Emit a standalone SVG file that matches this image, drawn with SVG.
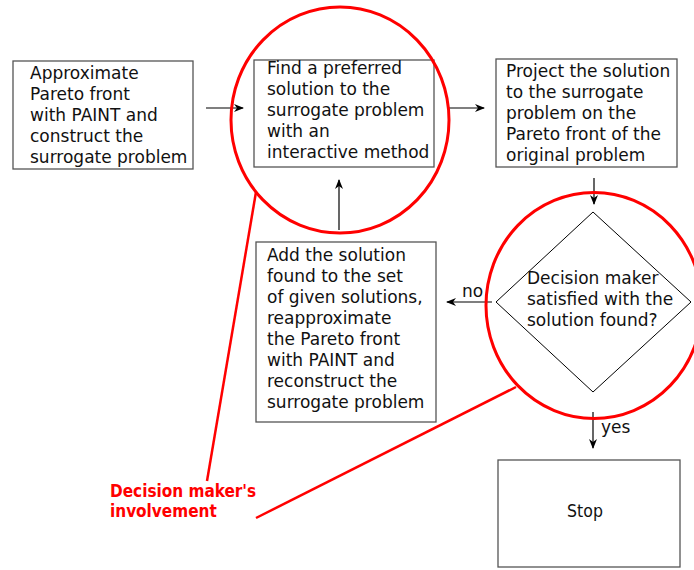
<svg xmlns="http://www.w3.org/2000/svg" width="694" height="570" viewBox="0 0 694 570">
<defs>
<marker id="ah" markerWidth="10" markerHeight="8" refX="9" refY="4" orient="auto" markerUnits="userSpaceOnUse">
<path d="M0,0 L10,4 L0,8 L3,4 Z" fill="#000"/>
</marker>
<style>
.box{fill:#fff;stroke:#555;stroke-width:1.3}
.t{font-family:"DejaVu Sans",sans-serif;font-size:17px;fill:#111}
.c{font-family:"DejaVu Sans Condensed","DejaVu Sans",sans-serif;font-size:17.5px}
.red{fill:none;stroke:#f00;stroke-width:3}
.rl{stroke:#f00;stroke-width:2.5;fill:none}
.ln{stroke:#000;stroke-width:1.2;fill:none;marker-end:url(#ah)}
.lbl{font-family:"DejaVu Sans Condensed","DejaVu Sans",sans-serif;font-size:17px;font-weight:bold;fill:#f00}
</style>
</defs>
<rect width="694" height="570" fill="#fff"/>
<g id="node-approx">
<rect class="box" x="13" y="61" width="180" height="108"/>
<text class="t" x="30" y="79">Approximate</text>
<text class="t" x="30" y="100">Pareto front</text>
<text class="t" x="30" y="121">with PAINT and</text>
<text class="t" x="30" y="142">construct the</text>
<text class="t" x="30" y="163">surrogate problem</text>
</g>
<g id="node-find">
<rect class="box" x="254" y="60" width="180" height="107"/>
<text class="t" x="267" y="74">Find a preferred</text>
<text class="t" x="267" y="95">solution to the</text>
<text class="t" x="267" y="116">surrogate problem</text>
<text class="t" x="267" y="137">with an</text>
<text class="t" x="267" y="158">interactive method</text>
</g>
<g id="node-project">
<rect class="box" x="496" y="59" width="181" height="108"/>
<text class="t" x="506" y="77">Project the solution</text>
<text class="t" x="506" y="98">to the surrogate</text>
<text class="t" x="506" y="119">problem on the</text>
<text class="t" x="506" y="140">Pareto front of the</text>
<text class="t" x="506" y="161">original problem</text>
</g>
<g id="node-add">
<rect class="box" x="256" y="242" width="180" height="180"/>
<text class="t" x="267" y="261">Add the solution</text>
<text class="t" x="267" y="282">found to the set</text>
<text class="t" x="267" y="303">of given solutions,</text>
<text class="t" x="267" y="324">reapproximate</text>
<text class="t" x="267" y="345">the Pareto front</text>
<text class="t" x="267" y="366">with PAINT and</text>
<text class="t" x="267" y="387">reconstruct the</text>
<text class="t" x="267" y="408">surrogate problem</text>
</g>
<g id="node-decision">
<polygon points="593,212 691,302 593,392 496,302" fill="#fff" stroke="#000" stroke-width="1"/>
<text class="t" x="527" y="284">Decision maker</text>
<text class="t" x="527" y="305">satisfied with the</text>
<text class="t" x="527" y="326">solution found?</text>
</g>
<g id="node-stop">
<rect class="box" x="498" y="460" width="182" height="107"/>
<text class="t c" x="585" y="517" text-anchor="middle">Stop</text>
</g>
<g id="connectors">
<line class="ln" x1="206" y1="108" x2="243" y2="108"/>
<line class="ln" x1="449" y1="108" x2="484" y2="108"/>
<line class="ln" x1="594" y1="178" x2="594" y2="204"/>
<line class="ln" x1="339" y1="230" x2="339" y2="180"/>
<line class="ln" x1="492" y1="302" x2="447" y2="302"/>
<line class="ln" x1="593" y1="412" x2="593" y2="448"/>
<text class="t" x="462" y="297">no</text>
<text class="t" x="601" y="433">yes</text>
</g>
<g id="involvement">
<ellipse class="red" cx="340" cy="120" rx="109" ry="113"/>
<ellipse class="red" cx="594" cy="305.5" rx="108" ry="113"/>
<line class="rl" x1="256" y1="192" x2="207" y2="481"/>
<line class="rl" x1="516" y1="387" x2="256" y2="518"/>
<text class="lbl" x="110" y="497">Decision maker's</text>
<text class="lbl" x="110" y="517">involvement</text>
</g>
</svg>
